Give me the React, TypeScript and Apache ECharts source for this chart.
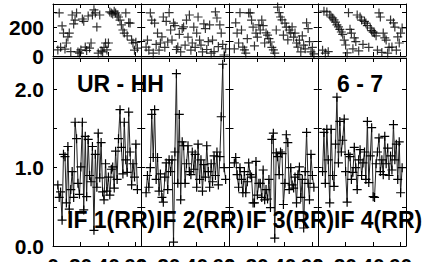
import React, { useEffect, useRef } from 'react';
import * as echarts from 'echarts';

// sample times (minutes) shared by all IF panels
const times = [3.5, 4.5, 5.5, 6.6, 7.6, 8.7, 9.7, 10.8, 11.8, 12.9, 13.9, 15.0, 16.0, 17.1, 18.1, 19.2, 20.2, 21.3, 22.3, 23.4, 24.4, 25.5, 26.5, 27.6, 28.6, 29.7, 30.7, 31.8, 32.8, 33.9, 34.9, 36.0, 37.0, 38.1, 39.1, 40.2, 41.2, 42.3, 43.3, 44.4, 45.4, 46.5, 47.5, 48.6, 49.6, 50.7, 51.7, 52.8, 53.8, 54.9, 55.9, 57.0, 58.0, 59.1, 60.1, 61.2];

const ifLabels = ['IF 1(RR)', 'IF 2(RR)', 'IF 3(RR)', 'IF 4(RR)'];
const baselineLabel = 'UR - HH';
const stokesLabel = '6 - 7';

// phase (degrees)
const phaseIF1 = [42, 298, 60, 208, 159, 48, 90, 132, 159, 30, 284, 222, 249, 298, 28, 20, 42, 256, 240, 62, 38, 277, 55, 90, 284, 320, 298, 201, 20, 284, 35, 28, 60, 90, 42, 90, 305, 298, 291, 310, 298, 284, 270, 249, 215, 180, 159, 298, 140, 230, 228, 110, 90, 40, 95, 55];
const phaseIF2 = [62, 110, 40, 298, 249, 20, 228, 80, 159, 40, 90, 132, 270, 60, 240, 97, 300, 180, 110, 228, 210, 45, 62, 150, 28, 190, 201, 75, 249, 130, 284, 40, 90, 200, 60, 159, 270, 110, 75, 28, 222, 190, 45, 100, 215, 20, 110, 30, 305, 263, 65, 215, 159, 80, 7, 50];
const phaseIF3 = [50, 230, 159, 90, 300, 180, 62, 42, 20, 120, 298, 298, 249, 200, 70, 159, 130, 215, 180, 249, 210, 90, 160, 145, 120, 97, 60, 42, 20, 180, 339, 300, 270, 250, 145, 228, 200, 111, 180, 160, 201, 130, 159, 90, 62, 110, 28, 140, 75, 50, 230, 190, 100, 28, 60, 15];
const phaseIF4 = [40, 310, 20, 305, 30, 284, 270, 263, 250, 235, 215, 201, 185, 166, 150, 110, 76, 21, 300, 185, 159, 50, 125, 100, 284, 35, 270, 249, 80, 240, 228, 210, 60, 194, 175, 165, 159, 140, 40, 298, 270, 25, 159, 125, 110, 20, 60, 249, 62, 230, 200, 40, 132, 90, 159, 194];

// amplitude
const ampIF1 = [0.78, 0.62, 0.69, 0.33, 1.17, 1.14, 0.55, 1.27, 0.47, 0.72, 0.95, 0.62, 1.58, 1.37, 0.8, 0.66, 1.01, 1.58, 0.46, 1.4, 0.63, 1.36, 0.9, 0.82, 1.27, 0.2, 1.17, 0.75, 1.44, 0.87, 1.32, 0.69, 0.59, 1.05, 0.7, 0.88, 0.65, 0.98, 1.01, 0.74, 1.21, 0.85, 1.37, 1.74, 1.26, 0.92, 1.58, 1.1, 0.94, 1.71, 1.2, 0.78, 1.05, 0.88, 1.3, 0.72];
const ampIF2 = [0.68, 0.9, 0.75, 1.0, 1.68, 1.13, 1.74, 0.85, 1.13, 0.7, 0.92, 0.62, 0.56, 0.88, 1.06, 0.72, 1.1, 0.95, 1.1, 0.05, 1.2, 2.2, 0.8, 1.68, 0.59, 1.33, 1.28, 0.8, 1.05, 1.28, 0.95, 0.91, 1.2, 0.98, 1.17, 0.75, 1.3, 0.85, 1.1, 0.7, 1.04, 0.88, 1.28, 0.95, 0.75, 1.05, 0.82, 1.15, 0.9, 1.2, 0.78, 1.14, 1.65, 2.32, 1.0, 0.85];
const ampIF3 = [1.06, 1.13, 0.91, 0.75, 1.0, 0.85, 0.68, 0.95, 0.68, 0.82, 1.06, 0.91, 0.88, 0.55, 0.55, 1.08, 0.65, 0.8, 0.8, 0.62, 0.97, 0.59, 0.72, 0.6, 0.85, 0.49, 1.36, 1.44, 0.1, 1.19, 1.14, 0.91, 1.2, 1.18, 0.53, 0.8, 1.42, 1.32, 0.72, 1.0, 0.78, 0.74, 0.88, 0.55, 0.91, 1.01, 0.62, 0.85, 0.23, 0.95, 1.45, 0.8, 0.59, 1.17, 0.9, 0.75];
const ampIF4 = [0.95, 1.45, 0.8, 1.49, 1.1, 0.55, 1.49, 0.9, 0.76, 1.3, 1.9, 1.06, 1.59, 1.2, 1.35, 1.62, 0.95, 0.56, 1.17, 1.14, 0.85, 0.94, 1.26, 1.0, 0.72, 1.1, 1.23, 0.9, 1.06, 1.2, 0.85, 1.59, 0.81, 1.15, 1.51, 0.63, 0.62, 1.05, 1.2, 1.38, 0.95, 1.1, 0.91, 1.4, 1.05, 1.25, 0.9, 1.15, 0.97, 1.55, 1.1, 1.3, 0.85, 1.33, 0.68, 1.0];

const phases = [phaseIF1, phaseIF2, phaseIF3, phaseIF4];
const amps = [ampIF1, ampIF2, ampIF3, ampIF4];

const phaseTickLabels = [0, 200];
const ampTickLabels = [0, 1, 2];
const timeTickLabels = [0, 20, 40, 60];

const FONT = 'Liberation Sans';
const CROSS = 'path://M0,5L10,5M5,0L5,10';

export default function App() {
  const ref = useRef<HTMLDivElement>(null);
  useEffect(() => {
    const chart = echarts.init(ref.current!, null, { renderer: 'svg' });
    const L = 53;
    const W = 88.25;
    const TOP_T = 4, TOP_H = 52, BOT_T = 58, BOT_H = 188;
    const labelStyle = { fontFamily: FONT, fontWeight: 'bold' as const, fontSize: 21, color: '#000' };
    const axisLine = { show: true, onZero: false, lineStyle: { color: '#000', width: 1 } };
    const axisTick = { show: true, inside: true, length: 4, lineStyle: { color: '#000', width: 1 } };

    const grid: any[] = [];
    const xAxis: any[] = [];
    const yAxis: any[] = [];
    const series: any[] = [];

    for (let row = 0; row < 2; row++) {
      for (let col = 0; col < 4; col++) {
        const g = row * 4 + col;
        grid.push({
          left: L + col * W, width: W, top: row === 0 ? TOP_T : BOT_T, height: row === 0 ? TOP_H : BOT_H,
          containLabel: false, outerBoundsMode: 'none',
        });
        // bottom x axis
        xAxis.push({
          type: 'value', gridIndex: g, position: 'bottom', min: 0, max: 64, interval: 20,
          axisLine, axisTick, splitLine: { show: false },
          axisLabel: {
            show: row === 1, margin: 9, ...labelStyle,
            formatter: (v: number) => (timeTickLabels.includes(v) ? String(v) : ''),
          },
        });
        // top x axis
        xAxis.push({
          type: 'value', gridIndex: g, position: 'top', min: 0, max: 64, interval: 20,
          axisLine, axisTick, splitLine: { show: false }, axisLabel: { show: false },
        });
        const yBase = row === 0
          ? { min: 0, max: 360, interval: 100 }
          : { min: 0, max: 2.4, interval: 0.5 };
        yAxis.push({
          type: 'value', gridIndex: g, position: 'left', ...yBase,
          axisLine, axisTick, splitLine: { show: false },
          axisLabel: {
            show: col === 0, margin: 9, ...labelStyle,
            formatter: row === 0
              ? (v: number) => (phaseTickLabels.includes(v) ? String(v) : '')
              : (v: number) => (ampTickLabels.includes(v) ? v.toFixed(1) : ''),
          },
        });
        yAxis.push({
          type: 'value', gridIndex: g, position: 'right', ...yBase,
          axisLine, axisTick, splitLine: { show: false }, axisLabel: { show: false },
        });
      }
    }

    const symStyle = { color: '#000', borderColor: '#000', borderWidth: 1.2 };
    for (let i = 0; i < 4; i++) {
      const gTop = i;
      const gBot = 4 + i;
      series.push({
        type: 'scatter', xAxisIndex: 2 * gTop, yAxisIndex: 2 * gTop,
        data: times.map((t, k) => [t, phases[i][k]]),
        symbol: CROSS, symbolSize: 9, itemStyle: symStyle, silent: true,
      });
      series.push({
        type: 'line', xAxisIndex: 2 * gBot, yAxisIndex: 2 * gBot,
        data: times.map((t, k) => [t, amps[i][k]]),
        lineStyle: { color: '#222', width: 1 },
        symbol: CROSS, symbolSize: 9, showSymbol: true, showAllSymbol: true,
        itemStyle: symStyle, silent: true,
      });
    }

    const textFont = `bold 23px "${FONT}"`;
    const graphic: any[] = [
      { type: 'rect', shape: { x: L, y: 56.5, width: 4 * W, height: 1.5 }, style: { fill: '#bbb' }, silent: true },
      { type: 'text', x: 77, y: 84, style: { text: baselineLabel, font: textFont, fill: '#000', verticalAlign: 'middle' }, z: 100 },
      { type: 'text', x: 337, y: 84, style: { text: stokesLabel, font: textFont, fill: '#000', verticalAlign: 'middle' }, z: 100 },
    ];
    const ifX = [67, 156, 246, 334];
    ifLabels.forEach((s, i) => {
      graphic.push({ type: 'text', x: ifX[i], y: 220, style: { text: s, font: textFont, fill: '#000', verticalAlign: 'middle' }, z: 100 });
    });

    chart.setOption({
      animation: false,
      backgroundColor: '#fff',
      grid, xAxis, yAxis, series, graphic,
    });
    return () => chart.dispose();
  }, []);
  return <div ref={ref} style={{ position: 'fixed', left: 0, top: 0, width: 424, height: 262 }} />;
}
